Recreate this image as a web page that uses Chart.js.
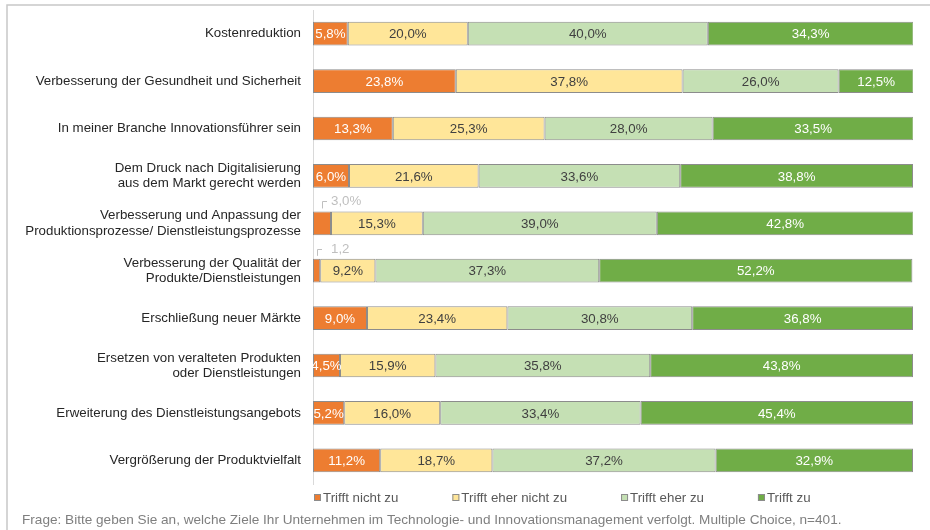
<!DOCTYPE html>
<html>
<head>
<meta charset="utf-8">
<script src="https://cdn.jsdelivr.net/npm/chart.js@4"></script>
<style>
html,body{margin:0;padding:0;background:#fff;}
#wrap{position:relative;width:930px;height:530px;}
</style>
</head>
<body>
<div id="wrap"><canvas id="c" width="930" height="530"></canvas></div>
<script>
const categories = [
  'Kostenreduktion',
  'Verbesserung der Gesundheit und Sicherheit',
  'In meiner Branche Innovationsführer sein',
  ['Dem Druck nach Digitalisierung', 'aus dem Markt gerecht werden'],
  ['Verbesserung und Anpassung der', 'Produktionsprozesse/ Dienstleistungsprozesse'],
  ['Verbesserung der Qualität der', 'Produkte/Dienstleistungen'],
  'Erschließung neuer Märkte',
  ['Ersetzen von veralteten Produkten', 'oder Dienstleistungen'],
  'Erweiterung des Dienstleistungsangebots',
  'Vergrößerung der Produktvielfalt'
];
const seriesNames = ['Trifft nicht zu', 'Trifft eher nicht zu', 'Trifft eher zu', 'Trifft zu'];
const trifftNicht     = [5.8, 23.8, 13.3, 6.0, 3.0, 1.2, 9.0, 4.5, 5.2, 11.2];
const trifftEherNicht = [20.0, 37.8, 25.3, 21.6, 15.3, 9.2, 23.4, 15.9, 16.0, 18.7];
const trifftEher      = [40.0, 26.0, 28.0, 33.6, 39.0, 37.3, 30.8, 35.8, 33.4, 37.2];
const trifftZu        = [34.3, 12.5, 33.5, 38.8, 42.8, 52.2, 36.8, 43.8, 45.4, 32.9];
const outsideLabels = {4: '3,0%', 5: '1,2'};
const footerText = 'Frage: Bitte geben Sie an, welche Ziele Ihr Unternehmen im Technologie- und Innovationsmanagement verfolgt. Multiple Choice, n=401.';

const fillColors = ['#ED7D31', '#FFE699', '#C5E0B4', '#70AD47'];
const textColors = ['#ffffff', '#404040', '#404040', '#ffffff'];
const FONT = '"Liberation Sans", Arial, sans-serif';
const FS = 13.3;

const valueSets = [trifftNicht, trifftEherNicht, trifftEher, trifftZu];

function fmt(v){ return v.toFixed(1).replace('.', ',') + '%'; }

const labelPlugin = {
  id: 'labels',
  afterDatasetsDraw(chart){
    const ctx = chart.ctx;
    ctx.save();
    ctx.font = FS + 'px ' + FONT;
    ctx.textBaseline = 'middle';
    chart.data.datasets.forEach((ds, di) => {
      const meta = chart.getDatasetMeta(di);
      meta.data.forEach((bar, i) => {
        const v = ds.data[i];
        const left = Math.min(bar.x, bar.base), right = Math.max(bar.x, bar.base);
        if (di === 0 && outsideLabels[i] !== undefined) {
          const top = bar.y - bar.height / 2;
          const lx = Math.round(left + (right - left) / 2);
          const ly = Math.round(top - 10);
          ctx.strokeStyle = '#bfbfbf';
          ctx.lineWidth = 1;
          ctx.beginPath();
          ctx.moveTo(lx + 0.5, top - 3);
          ctx.lineTo(lx + 0.5, ly + 0.5);
          ctx.lineTo(lx + 5, ly + 0.5);
          ctx.stroke();
          ctx.fillStyle = '#bfbfbf';
          ctx.textAlign = 'left';
          ctx.fillText(outsideLabels[i], Math.max(lx + 8, 331), ly);
        } else {
          ctx.fillStyle = textColors[di];
          ctx.textAlign = 'center';
          ctx.fillText(fmt(v), (left + right) / 2, bar.y + 1);
        }
      });
    });
    ctx.restore();
  },
  afterDraw(chart){
    const ctx = chart.ctx;
    ctx.save();
    ctx.strokeStyle = '#c8c8c8';
    ctx.lineWidth = 1.5;
    ctx.beginPath();
    ctx.moveTo(7, 530);
    ctx.lineTo(7, 5);
    ctx.lineTo(930, 5);
    ctx.stroke();
    ctx.font = FS + 'px ' + FONT;
    ctx.textBaseline = 'middle';
    ctx.textAlign = 'left';
    let x = 314;
    const y = 498;
    seriesNames.forEach((n, k) => {
      ctx.fillStyle = fillColors[k];
      ctx.fillRect(x, y - 4, 7, 7);
      ctx.strokeStyle = '#8c8c8c';
      ctx.lineWidth = 1;
      ctx.strokeRect(x + 0.5, y - 3.5, 6, 6);
      ctx.fillStyle = '#595959';
      ctx.fillText(n, x + 9, y);
      x += 9 + ctx.measureText(n).width + 54;
    });
    ctx.font = '13.6px ' + FONT;
    ctx.fillStyle = '#7f7f7f';
    ctx.fillText(footerText, 22, 520);
    ctx.restore();
  }
};

new Chart(document.getElementById('c'), {
  type: 'bar',
  data: {
    labels: categories,
    datasets: valueSets.map((vals, k) => ({
      label: seriesNames[k],
      data: vals,
      backgroundColor: fillColors[k],
      borderColor: '#8c8c8c',
      borderWidth: 1,
      borderSkipped: false,
      barPercentage: 0.5,
      categoryPercentage: 1.0
    }))
  },
  options: {
    indexAxis: 'y',
    responsive: false,
    animation: false,
    devicePixelRatio: 1,
    layout: { padding: { left: 0, right: 17, top: 10, bottom: 46 } },
    plugins: { legend: { display: false }, tooltip: { enabled: false } },
    scales: {
      x: { stacked: true, min: 0, max: 100, display: false },
      y: {
        stacked: true,
        grid: { display: false, drawTicks: false },
        border: { display: true, color: '#d9d9d9', width: 1 },
        ticks: {
          padding: 12,
          color: '#262626',
          font: { family: FONT, size: FS, lineHeight: 1.15 },
          autoSkip: false
        },
        afterFit(scale){
          scale.width = 313;
          scale.paddingTop = 0;
          scale.paddingBottom = 0;
        }
      }
    }
  },
  plugins: [labelPlugin]
});
</script>
</body>
</html>
